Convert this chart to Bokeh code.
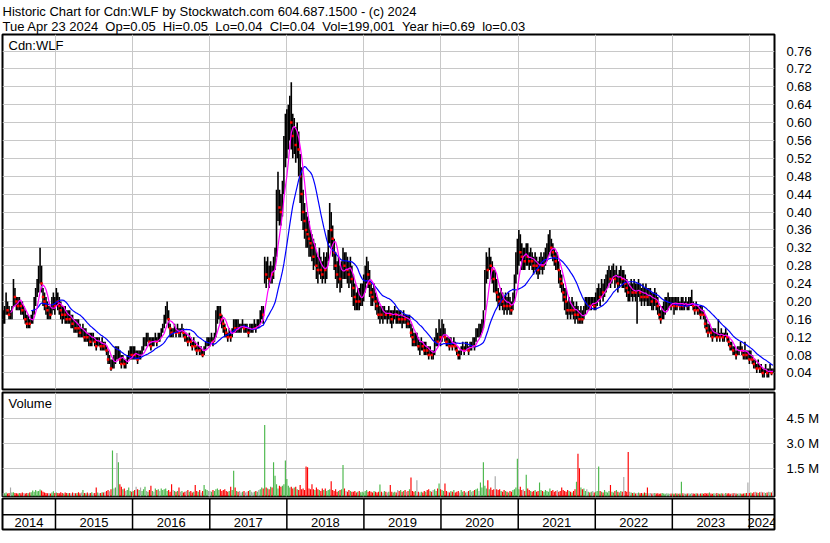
import numpy as np
import pandas as pd
from bokeh.plotting import figure
from bokeh.layouts import column
from bokeh.models import Range1d, FixedTicker, Grid, Label, PrintfTickFormatter, ColumnDataSource
from bokeh.core.properties import value
from bokeh.embed import file_html
from bokeh.resources import INLINE

# ---------------- texts / ticks ----------------
header_line1 = "Historic Chart for Cdn:WLF by Stockwatch.com 604.687.1500 - (c) 2024"
header_line2 = ("Tue Apr 23 2024 \u00a0Op=0.05 \u00a0Hi=0.05 \u00a0Lo=0.04 \u00a0Cl=0.04 "
                "\u00a0Vol=199,001 \u00a0Year hi=0.69 \u00a0lo=0.03")
symbol = "Cdn:WLF"
volume_title = "Volume"
first_week = "2014-04-28"
view_start = "2014-04-25"
view_end = "2024-04-29"
price_ticks = [0.04, 0.08, 0.12, 0.16, 0.20, 0.24, 0.28, 0.32, 0.36, 0.40,
               0.44, 0.48, 0.52, 0.56, 0.60, 0.64, 0.68, 0.72, 0.76]
volume_ticks = [1.5, 3.0, 4.5]          # millions
year_labels = [2014, 2015, 2016, 2017, 2018, 2019, 2020, 2021, 2022, 2023, 2024]
fast_weeks = 6
slow_weeks = 20

# ---------------- weekly data ----------------
close_2014 = [0.16, 0.17, 0.20, 0.18, 0.17, 0.17, 0.18, 0.23, 0.21, 0.20,
              0.19, 0.20, 0.19, 0.18, 0.18, 0.16, 0.15, 0.16, 0.15, 0.16,
              0.17, 0.19, 0.22, 0.23, 0.25, 0.27, 0.24, 0.21, 0.20, 0.19,
              0.18, 0.18, 0.17, 0.19, 0.20, 0.19]
high_2014 = [0.18, 0.19, 0.22, 0.20, 0.19, 0.18, 0.19, 0.25, 0.23, 0.21,
             0.21, 0.21, 0.20, 0.20, 0.19, 0.18, 0.17, 0.17, 0.16, 0.17,
             0.18, 0.21, 0.23, 0.25, 0.28, 0.32, 0.28, 0.23, 0.22, 0.21,
             0.20, 0.19, 0.19, 0.21, 0.22, 0.21]
low_2014 = [0.15, 0.15, 0.17, 0.17, 0.16, 0.16, 0.16, 0.19, 0.19, 0.18,
            0.18, 0.18, 0.17, 0.17, 0.16, 0.15, 0.14, 0.14, 0.14, 0.15,
            0.15, 0.17, 0.19, 0.21, 0.22, 0.24, 0.22, 0.19, 0.18, 0.17,
            0.16, 0.16, 0.16, 0.17, 0.18, 0.17]
vol_2014 = [0.08, 0.06, 0.10, 0.05, 0.08, 0.40, 0.10, 0.12, 0.08, 0.06,
            0.05, 0.08, 0.06, 0.10, 0.07, 0.05, 0.08, 0.06, 0.10, 0.12,
            0.22, 0.15, 0.25, 0.18, 0.20, 0.28, 0.22, 0.15, 0.10, 0.08,
            0.06, 0.08, 0.05, 0.10, 0.18, 0.08]

close_2015 = [0.21, 0.20, 0.19, 0.18, 0.17, 0.18, 0.17, 0.16, 0.17, 0.16,
              0.16, 0.15, 0.15, 0.14, 0.15, 0.14, 0.13, 0.13, 0.14, 0.12,
              0.13, 0.12, 0.12, 0.11, 0.12, 0.12, 0.11, 0.10, 0.11, 0.11,
              0.10, 0.11, 0.10, 0.10, 0.09, 0.07, 0.07, 0.05, 0.06, 0.06,
              0.08, 0.08, 0.09, 0.07, 0.06, 0.07, 0.06, 0.06, 0.07, 0.08,
              0.09, 0.08]
high_2015 = [0.23, 0.22, 0.21, 0.20, 0.19, 0.19, 0.19, 0.18, 0.18, 0.18,
             0.17, 0.17, 0.16, 0.16, 0.16, 0.16, 0.15, 0.14, 0.15, 0.14,
             0.14, 0.13, 0.13, 0.13, 0.13, 0.13, 0.12, 0.12, 0.12, 0.12,
             0.11, 0.12, 0.11, 0.11, 0.10, 0.09, 0.08, 0.07, 0.07, 0.08,
             0.10, 0.10, 0.10, 0.09, 0.08, 0.08, 0.07, 0.07, 0.08, 0.09,
             0.10, 0.10]
low_2015 = [0.19, 0.18, 0.17, 0.16, 0.15, 0.16, 0.15, 0.15, 0.15, 0.15,
            0.14, 0.14, 0.13, 0.13, 0.13, 0.12, 0.12, 0.12, 0.12, 0.11,
            0.11, 0.11, 0.10, 0.10, 0.10, 0.11, 0.10, 0.09, 0.10, 0.10,
            0.09, 0.09, 0.09, 0.09, 0.08, 0.06, 0.06, 0.045, 0.05, 0.05,
            0.06, 0.07, 0.07, 0.06, 0.05, 0.06, 0.05, 0.05, 0.06, 0.07,
            0.07, 0.07]
vol_2015 = [0.10, 0.08, 0.06, 0.12, 0.08, 0.05, 0.10, 0.07, 0.06, 0.08,
            0.05, 0.10, 0.07, 0.06, 0.08, 0.12, 0.06, 0.10, 0.25, 0.08,
            0.06, 0.10, 0.05, 0.08, 0.12, 0.06, 0.08, 0.40, 0.10, 0.06,
            0.08, 0.12, 0.10, 0.15, 0.20, 0.25, 0.18, 0.30, 2.60, 0.35,
            0.40, 2.45, 1.90, 0.60, 0.45, 0.30, 0.35, 0.20, 0.25, 0.40,
            0.20, 0.15]

close_2016 = [0.09, 0.08, 0.08, 0.07, 0.08, 0.08, 0.09, 0.10, 0.11, 0.11,
              0.12, 0.11, 0.10, 0.11, 0.11, 0.12, 0.11, 0.12, 0.12, 0.13,
              0.14, 0.15, 0.17, 0.18, 0.16, 0.14, 0.13, 0.13, 0.14, 0.13,
              0.14, 0.13, 0.13, 0.14, 0.13, 0.12, 0.12, 0.11, 0.12, 0.11,
              0.10, 0.11, 0.10, 0.09, 0.10, 0.09, 0.09, 0.08, 0.09, 0.10,
              0.11, 0.11]
high_2016 = [0.10, 0.10, 0.09, 0.09, 0.09, 0.09, 0.10, 0.12, 0.12, 0.13,
             0.13, 0.12, 0.12, 0.12, 0.12, 0.13, 0.12, 0.13, 0.13, 0.14,
             0.15, 0.17, 0.19, 0.20, 0.18, 0.15, 0.14, 0.14, 0.15, 0.14,
             0.15, 0.14, 0.14, 0.15, 0.14, 0.13, 0.13, 0.12, 0.13, 0.12,
             0.11, 0.12, 0.11, 0.10, 0.11, 0.10, 0.10, 0.09, 0.10, 0.11,
             0.12, 0.12]
low_2016 = [0.07, 0.07, 0.07, 0.06, 0.07, 0.07, 0.08, 0.09, 0.10, 0.10,
            0.11, 0.10, 0.09, 0.10, 0.10, 0.11, 0.10, 0.11, 0.11, 0.12,
            0.13, 0.14, 0.15, 0.16, 0.14, 0.12, 0.12, 0.12, 0.13, 0.12,
            0.13, 0.12, 0.12, 0.13, 0.12, 0.11, 0.11, 0.10, 0.11, 0.10,
            0.09, 0.10, 0.09, 0.08, 0.09, 0.08, 0.08, 0.075, 0.08, 0.09,
            0.10, 0.10]
vol_2016 = [0.20, 0.25, 0.45, 0.30, 0.25, 0.40, 0.20, 0.30, 0.45, 0.20,
            0.15, 0.25, 0.50, 0.20, 0.15, 0.35, 0.25, 0.30, 0.20, 0.35,
            0.25, 0.30, 0.35, 0.20, 0.25, 0.15, 0.60, 0.25, 0.20, 0.15,
            0.20, 0.40, 0.15, 0.20, 0.10, 0.15, 0.20, 0.25, 0.15, 0.20,
            0.10, 0.15, 0.55, 0.20, 0.15, 0.25, 0.10, 0.20, 0.55, 0.30,
            0.25, 0.20]

close_2017 = [0.11, 0.12, 0.11, 0.12, 0.16, 0.17, 0.18, 0.17, 0.16, 0.15,
              0.14, 0.13, 0.12, 0.13, 0.12, 0.13, 0.15, 0.14, 0.15, 0.14,
              0.14, 0.14, 0.15, 0.14, 0.14, 0.14, 0.13, 0.14, 0.14, 0.14,
              0.15, 0.14, 0.15, 0.15, 0.16, 0.18, 0.17, 0.27, 0.26, 0.28,
              0.25, 0.27, 0.26, 0.28, 0.29, 0.40, 0.44, 0.41, 0.40, 0.43,
              0.50, 0.56]
high_2017 = [0.12, 0.13, 0.12, 0.13, 0.18, 0.19, 0.19, 0.19, 0.17, 0.16,
             0.15, 0.14, 0.13, 0.14, 0.13, 0.14, 0.16, 0.16, 0.16, 0.16,
             0.15, 0.15, 0.16, 0.15, 0.15, 0.15, 0.14, 0.15, 0.15, 0.15,
             0.16, 0.15, 0.16, 0.16, 0.18, 0.19, 0.19, 0.30, 0.29, 0.30,
             0.28, 0.29, 0.28, 0.30, 0.32, 0.45, 0.49, 0.45, 0.44, 0.47,
             0.57, 0.62]
low_2017 = [0.10, 0.11, 0.10, 0.11, 0.12, 0.15, 0.16, 0.15, 0.14, 0.13,
            0.12, 0.12, 0.11, 0.12, 0.11, 0.12, 0.13, 0.13, 0.13, 0.13,
            0.13, 0.13, 0.14, 0.13, 0.13, 0.13, 0.12, 0.13, 0.13, 0.13,
            0.14, 0.13, 0.14, 0.14, 0.15, 0.16, 0.15, 0.24, 0.23, 0.25,
            0.23, 0.24, 0.24, 0.25, 0.27, 0.30, 0.38, 0.37, 0.37, 0.39,
            0.44, 0.50]
vol_2017 = [0.20, 0.15, 0.25, 0.20, 0.30, 0.35, 0.25, 0.30, 0.20, 0.25,
            0.30, 0.20, 0.15, 0.20, 0.45, 0.25, 1.40, 0.40, 0.20, 0.15,
            0.20, 0.10, 0.15, 0.20, 0.10, 0.15, 0.20, 0.25, 0.15, 0.10,
            0.15, 0.20, 0.15, 0.25, 0.30, 0.40, 0.35, 4.10, 0.40, 0.35,
            0.30, 0.45, 0.40, 1.90, 1.10, 0.60, 0.35, 0.50, 0.45, 0.50,
            0.60, 2.00]

close_2018 = [0.58, 0.60, 0.62, 0.60, 0.57, 0.58, 0.55, 0.56, 0.54, 0.48,
              0.44, 0.40, 0.38, 0.36, 0.35, 0.34, 0.33, 0.32, 0.30, 0.31,
              0.28, 0.27, 0.29, 0.27, 0.26, 0.28, 0.27, 0.28, 0.33, 0.38,
              0.36, 0.34, 0.31, 0.28, 0.26, 0.27, 0.25, 0.26, 0.29, 0.28,
              0.28, 0.27, 0.26, 0.27, 0.25, 0.23, 0.21, 0.20, 0.21, 0.20,
              0.21, 0.22, 0.24]
high_2018 = [0.63, 0.64, 0.66, 0.69, 0.62, 0.61, 0.59, 0.60, 0.58, 0.53,
             0.50, 0.45, 0.42, 0.40, 0.39, 0.38, 0.36, 0.35, 0.34, 0.33,
             0.31, 0.30, 0.32, 0.30, 0.29, 0.31, 0.30, 0.31, 0.36, 0.42,
             0.40, 0.37, 0.34, 0.31, 0.29, 0.30, 0.28, 0.29, 0.32, 0.31,
             0.31, 0.30, 0.29, 0.30, 0.28, 0.26, 0.24, 0.22, 0.23, 0.23,
             0.24, 0.24, 0.26]
low_2018 = [0.52, 0.54, 0.56, 0.54, 0.52, 0.53, 0.51, 0.52, 0.48, 0.42,
            0.38, 0.36, 0.34, 0.32, 0.32, 0.30, 0.30, 0.29, 0.27, 0.28,
            0.25, 0.24, 0.26, 0.25, 0.24, 0.25, 0.24, 0.25, 0.29, 0.33,
            0.32, 0.30, 0.27, 0.25, 0.23, 0.24, 0.22, 0.23, 0.25, 0.25,
            0.25, 0.24, 0.23, 0.24, 0.21, 0.19, 0.18, 0.18, 0.18, 0.18,
            0.19, 0.19, 0.20]
vol_2018 = [0.90, 0.50, 0.40, 0.45, 0.35, 0.40, 0.45, 0.30, 0.25, 0.55,
            0.30, 0.35, 0.25, 1.65, 1.60, 0.35, 0.30, 0.60, 0.30, 0.25,
            0.40, 0.30, 0.25, 0.20, 0.35, 0.25, 0.35, 0.20, 0.25, 0.30,
            0.78, 0.25, 0.20, 0.30, 0.15, 0.20, 0.25, 0.30, 1.74, 0.35,
            0.20, 0.15, 0.25, 0.20, 0.15, 0.15, 0.20, 0.10, 0.15, 0.20,
            0.12, 0.15, 0.10]

close_2019 = [0.25, 0.28, 0.26, 0.24, 0.22, 0.21, 0.22, 0.20, 0.19, 0.17,
              0.18, 0.17, 0.17, 0.18, 0.17, 0.17, 0.18, 0.17, 0.16, 0.17,
              0.18, 0.17, 0.17, 0.16, 0.17, 0.16, 0.17, 0.16, 0.16, 0.15,
              0.16, 0.13, 0.12, 0.11, 0.12, 0.12, 0.10, 0.10, 0.11, 0.10,
              0.09, 0.10, 0.09, 0.08, 0.09, 0.08, 0.08, 0.10, 0.12, 0.11,
              0.13, 0.12]
high_2019 = [0.28, 0.30, 0.29, 0.27, 0.24, 0.23, 0.24, 0.22, 0.21, 0.20,
             0.19, 0.19, 0.19, 0.19, 0.18, 0.18, 0.19, 0.18, 0.18, 0.18,
             0.19, 0.18, 0.18, 0.18, 0.18, 0.17, 0.18, 0.17, 0.17, 0.17,
             0.17, 0.15, 0.14, 0.13, 0.13, 0.13, 0.12, 0.11, 0.12, 0.11,
             0.11, 0.11, 0.10, 0.10, 0.10, 0.09, 0.09, 0.12, 0.14, 0.13,
             0.16, 0.14]
low_2019 = [0.22, 0.24, 0.23, 0.21, 0.19, 0.19, 0.20, 0.18, 0.17, 0.16,
            0.15, 0.16, 0.15, 0.16, 0.16, 0.15, 0.16, 0.15, 0.14, 0.15,
            0.16, 0.15, 0.15, 0.15, 0.15, 0.14, 0.15, 0.15, 0.14, 0.14,
            0.14, 0.12, 0.10, 0.10, 0.10, 0.10, 0.09, 0.08, 0.09, 0.09,
            0.08, 0.08, 0.08, 0.07, 0.08, 0.07, 0.07, 0.08, 0.10, 0.10,
            0.11, 0.10]
vol_2019 = [0.20, 0.25, 0.15, 0.20, 0.15, 0.10, 0.20, 0.15, 0.10, 0.15,
            0.58, 0.15, 0.10, 0.20, 0.15, 0.10, 0.15, 0.55, 0.15, 0.10,
            0.15, 0.10, 0.25, 0.20, 0.25, 0.15, 0.20, 0.25, 0.15, 0.20,
            0.30, 1.00, 0.20, 0.15, 0.20, 0.83, 0.15, 0.10, 0.15, 0.10,
            0.20, 0.15, 0.25, 0.30, 0.20, 0.15, 0.25, 0.30, 0.20, 0.35,
            0.64, 0.30]

close_2020 = [0.13, 0.14, 0.12, 0.11, 0.11, 0.10, 0.11, 0.10, 0.11, 0.10,
              0.09, 0.08, 0.08, 0.09, 0.10, 0.09, 0.10, 0.10, 0.09, 0.10,
              0.10, 0.11, 0.10, 0.12, 0.13, 0.13, 0.14, 0.15, 0.16, 0.24,
              0.29, 0.27, 0.30, 0.28, 0.27, 0.25, 0.25, 0.22, 0.21, 0.20,
              0.21, 0.20, 0.19, 0.20, 0.19, 0.20, 0.19, 0.18, 0.20, 0.23,
              0.27, 0.29]
high_2020 = [0.16, 0.15, 0.14, 0.12, 0.12, 0.12, 0.12, 0.11, 0.12, 0.11,
             0.10, 0.09, 0.09, 0.10, 0.11, 0.10, 0.11, 0.11, 0.10, 0.11,
             0.11, 0.12, 0.12, 0.14, 0.14, 0.15, 0.15, 0.16, 0.18, 0.27,
             0.31, 0.30, 0.32, 0.30, 0.29, 0.27, 0.27, 0.25, 0.23, 0.22,
             0.23, 0.22, 0.21, 0.22, 0.21, 0.22, 0.21, 0.20, 0.22, 0.26,
             0.31, 0.34]
low_2020 = [0.11, 0.12, 0.11, 0.10, 0.10, 0.09, 0.10, 0.09, 0.10, 0.09,
            0.08, 0.07, 0.07, 0.08, 0.09, 0.08, 0.09, 0.09, 0.08, 0.09,
            0.09, 0.10, 0.09, 0.11, 0.12, 0.12, 0.12, 0.13, 0.14, 0.18,
            0.24, 0.25, 0.27, 0.25, 0.24, 0.22, 0.22, 0.20, 0.19, 0.18,
            0.19, 0.18, 0.17, 0.18, 0.17, 0.18, 0.17, 0.17, 0.18, 0.20,
            0.24, 0.26]
vol_2020 = [0.25, 0.20, 0.64, 0.20, 0.15, 0.10, 0.20, 0.15, 0.25, 0.10,
            0.15, 0.20, 0.10, 0.25, 0.15, 0.20, 0.10, 0.15, 0.20, 0.25,
            0.15, 0.20, 0.25, 0.30, 0.35, 0.20, 0.70, 0.40, 1.90, 0.50,
            0.35, 0.83, 0.30, 0.40, 0.25, 0.30, 1.07, 0.30, 0.25, 0.30,
            0.20, 0.15, 0.25, 0.20, 0.15, 0.10, 0.20, 0.15, 0.25, 0.30,
            0.40, 2.10]

close_2021 = [0.33, 0.31, 0.30, 0.30, 0.29, 0.31, 0.30, 0.29, 0.30, 0.29,
              0.28, 0.29, 0.28, 0.27, 0.28, 0.29, 0.28, 0.29, 0.30, 0.31,
              0.33, 0.34, 0.32, 0.31, 0.30, 0.29, 0.29, 0.27, 0.25, 0.24,
              0.22, 0.21, 0.20, 0.18, 0.19, 0.18, 0.19, 0.18, 0.17, 0.18,
              0.17, 0.16, 0.17, 0.16, 0.17, 0.19, 0.19, 0.20, 0.19, 0.20,
              0.20, 0.19]
high_2021 = [0.36, 0.35, 0.33, 0.32, 0.32, 0.33, 0.33, 0.31, 0.32, 0.31,
             0.30, 0.31, 0.30, 0.29, 0.30, 0.31, 0.30, 0.31, 0.32, 0.33,
             0.35, 0.36, 0.34, 0.33, 0.32, 0.31, 0.31, 0.29, 0.27, 0.26,
             0.24, 0.23, 0.23, 0.20, 0.21, 0.20, 0.21, 0.20, 0.19, 0.20,
             0.19, 0.18, 0.19, 0.18, 0.19, 0.21, 0.21, 0.21, 0.21, 0.21,
             0.21, 0.21]
low_2021 = [0.28, 0.29, 0.27, 0.27, 0.27, 0.28, 0.28, 0.27, 0.28, 0.27,
            0.26, 0.27, 0.26, 0.25, 0.26, 0.27, 0.26, 0.27, 0.28, 0.29,
            0.30, 0.31, 0.30, 0.29, 0.28, 0.27, 0.27, 0.24, 0.23, 0.22,
            0.20, 0.18, 0.17, 0.16, 0.17, 0.16, 0.17, 0.16, 0.15, 0.16,
            0.15, 0.15, 0.15, 0.15, 0.16, 0.17, 0.18, 0.18, 0.18, 0.18,
            0.19, 0.18]
vol_2021 = [0.30, 0.45, 0.25, 0.30, 0.20, 1.16, 0.35, 0.25, 0.20, 0.15,
            0.20, 0.25, 0.15, 0.20, 0.70, 0.25, 0.20, 0.15, 0.25, 0.20,
            0.15, 0.35, 0.20, 0.25, 0.15, 0.20, 0.25, 0.15, 0.20, 0.40,
            0.25, 0.20, 0.15, 0.25, 0.20, 0.15, 0.10, 0.20, 0.30, 0.74,
            2.40, 1.55, 0.40, 0.30, 0.35, 0.20, 0.30, 0.15, 0.10, 0.15,
            0.20, 0.10]

close_2022 = [0.20, 0.21, 0.22, 0.21, 0.23, 0.22, 0.23, 0.24, 0.25, 0.26,
              0.25, 0.26, 0.27, 0.25, 0.26, 0.24, 0.25, 0.26, 0.25, 0.25,
              0.24, 0.23, 0.22, 0.22, 0.23, 0.22, 0.23, 0.22, 0.22, 0.23,
              0.22, 0.21, 0.22, 0.21, 0.22, 0.21, 0.21, 0.21, 0.20, 0.20,
              0.21, 0.20, 0.19, 0.17, 0.16, 0.17, 0.18, 0.19, 0.19, 0.20,
              0.20, 0.19]
high_2022 = [0.22, 0.23, 0.24, 0.23, 0.25, 0.24, 0.25, 0.26, 0.27, 0.28,
             0.27, 0.28, 0.285, 0.27, 0.28, 0.26, 0.27, 0.28, 0.27, 0.27,
             0.26, 0.25, 0.24, 0.24, 0.25, 0.24, 0.25, 0.24, 0.24, 0.25,
             0.24, 0.23, 0.24, 0.23, 0.24, 0.23, 0.23, 0.23, 0.22, 0.22,
             0.23, 0.22, 0.21, 0.19, 0.18, 0.19, 0.20, 0.21, 0.21, 0.22,
             0.21, 0.21]
low_2022 = [0.18, 0.19, 0.20, 0.19, 0.21, 0.20, 0.21, 0.22, 0.23, 0.24,
            0.23, 0.24, 0.25, 0.23, 0.24, 0.22, 0.23, 0.24, 0.23, 0.23,
            0.22, 0.21, 0.20, 0.20, 0.21, 0.20, 0.21, 0.20, 0.15, 0.21,
            0.20, 0.19, 0.20, 0.19, 0.20, 0.19, 0.19, 0.19, 0.18, 0.18,
            0.19, 0.18, 0.17, 0.16, 0.15, 0.16, 0.16, 0.17, 0.18, 0.18,
            0.19, 0.18]
vol_2022 = [0.15, 0.20, 1.65, 0.20, 0.15, 0.10, 0.25, 0.15, 0.10, 0.20,
            0.55, 0.15, 0.10, 0.20, 0.25, 0.15, 0.10, 0.20, 0.15, 1.03,
            0.20, 0.15, 2.50, 0.15, 0.10, 0.08, 0.10, 0.05, 0.08, 0.10,
            0.06, 0.08, 0.05, 0.10, 0.08, 0.40, 0.06, 0.08, 0.05, 0.06,
            0.08, 0.05, 0.06, 0.04, 0.05, 0.08, 0.05, 0.04, 0.06, 0.05,
            0.04, 0.05]

close_2023 = [0.20, 0.19, 0.20, 0.19, 0.20, 0.19, 0.20, 0.19, 0.19, 0.20,
              0.19, 0.19, 0.20, 0.20, 0.19, 0.18, 0.19, 0.18, 0.18, 0.17,
              0.18, 0.17, 0.15, 0.14, 0.13, 0.14, 0.13, 0.12, 0.13, 0.13,
              0.12, 0.13, 0.12, 0.13, 0.12, 0.12, 0.13, 0.12, 0.11, 0.10,
              0.10, 0.09, 0.09, 0.08, 0.09, 0.09, 0.10, 0.09, 0.08, 0.09,
              0.08, 0.08]
high_2023 = [0.21, 0.21, 0.21, 0.21, 0.21, 0.20, 0.21, 0.21, 0.20, 0.21,
             0.20, 0.21, 0.21, 0.226, 0.20, 0.19, 0.20, 0.19, 0.19, 0.19,
             0.19, 0.18, 0.17, 0.16, 0.15, 0.15, 0.14, 0.14, 0.14, 0.14,
             0.13, 0.16, 0.13, 0.14, 0.13, 0.13, 0.14, 0.13, 0.12, 0.11,
             0.11, 0.10, 0.10, 0.09, 0.10, 0.10, 0.11, 0.10, 0.09, 0.11,
             0.09, 0.09]
low_2023 = [0.19, 0.17, 0.18, 0.18, 0.19, 0.18, 0.18, 0.18, 0.18, 0.19,
            0.18, 0.18, 0.19, 0.19, 0.18, 0.17, 0.18, 0.17, 0.17, 0.16,
            0.17, 0.16, 0.14, 0.13, 0.12, 0.13, 0.12, 0.11, 0.12, 0.12,
            0.11, 0.12, 0.11, 0.12, 0.11, 0.11, 0.12, 0.11, 0.10, 0.09,
            0.09, 0.08, 0.08, 0.07, 0.08, 0.08, 0.09, 0.08, 0.07, 0.07,
            0.07, 0.07]
vol_2023 = [0.05, 0.04, 0.06, 0.05, 0.04, 0.05, 0.74, 0.06, 0.05, 0.04,
            0.05, 0.06, 0.04, 0.08, 0.05, 0.04, 0.06, 0.05, 0.04, 0.05,
            0.06, 0.04, 0.08, 0.05, 0.06, 0.10, 0.05, 0.04, 0.06, 0.05,
            0.08, 0.05, 0.04, 0.06, 0.05, 0.04, 0.08, 0.05, 0.06, 0.04,
            0.05, 0.06, 0.08, 0.05, 0.04, 0.06, 0.05, 0.04, 0.05, 0.06,
            0.08, 0.70]

close_2024 = [0.07, 0.08, 0.07, 0.06, 0.06, 0.05, 0.06, 0.05, 0.05, 0.04,
              0.04, 0.05, 0.04, 0.04, 0.05, 0.04, 0.04]
high_2024 = [0.09, 0.09, 0.08, 0.07, 0.07, 0.06, 0.07, 0.06, 0.06, 0.05,
             0.05, 0.06, 0.05, 0.05, 0.06, 0.05, 0.05]
low_2024 = [0.06, 0.07, 0.06, 0.05, 0.05, 0.04, 0.05, 0.04, 0.04, 0.03,
            0.03, 0.04, 0.03, 0.03, 0.04, 0.035, 0.04]
vol_2024 = [0.08, 0.10, 0.06, 0.12, 0.15, 0.10, 0.08, 0.12, 0.15, 0.10,
            0.12, 0.08, 0.10, 0.15, 0.12, 0.10, 0.20]

yearly = [
    (close_2014, high_2014, low_2014, vol_2014),
    (close_2015, high_2015, low_2015, vol_2015),
    (close_2016, high_2016, low_2016, vol_2016),
    (close_2017, high_2017, low_2017, vol_2017),
    (close_2018, high_2018, low_2018, vol_2018),
    (close_2019, high_2019, low_2019, vol_2019),
    (close_2020, high_2020, low_2020, vol_2020),
    (close_2021, high_2021, low_2021, vol_2021),
    (close_2022, high_2022, low_2022, vol_2022),
    (close_2023, high_2023, low_2023, vol_2023),
    (close_2024, high_2024, low_2024, vol_2024),
]
closes, highs, lows, vols = [], [], [], []
for c, h, l, v in yearly:
    m = min(len(c), len(h), len(l), len(v))
    closes += c[:m]; highs += h[:m]; lows += l[:m]; vols += v[:m]

n = len(closes)
dates = pd.date_range(first_week, periods=n, freq="7D")
xms = (dates.values.astype("int64") / 1e6).tolist()
opens = [closes[0]] + closes[:-1]

def ms(s):
    return pd.Timestamp(s).value / 1e6

x0, x1 = ms(view_start), ms(view_end)
DAY = 86400000.0

s = pd.Series(closes)
ma_fast = s.rolling(fast_weeks).mean().tolist()
ma_slow = s.rolling(slow_weeks).mean().tolist()

up_green, down_red, flat_grey = "#4cb84c", "#ff0000", "#a8a8a8"
vcolor = []
for o, c in zip(opens, closes):
    if round(c - o, 4) > 0:
        vcolor.append(up_green)
    elif round(c - o, 4) < 0:
        vcolor.append(down_red)
    else:
        vcolor.append(flat_grey)

src = ColumnDataSource(dict(x=xms, close=closes, high=highs, low=lows, open=opens,
                            vol=vols, vcolor=vcolor, fast=ma_fast, slow=ma_slow))
down_idx = [i for i in range(n) if closes[i] < opens[i] - 1e-9]
src_down = ColumnDataSource(dict(x=[xms[i] for i in down_idx], close=[closes[i] for i in down_idx]))

year_ms = [ms(f"{y}-01-01") for y in year_labels[1:]]

FONT = "Liberation Sans"
FW = 772
LB, RB = 2, 40
GRID = "#c8c8c8"

# ---------------- price panel ----------------
p = figure(frame_width=FW, frame_height=355, x_range=Range1d(x0, x1), y_range=Range1d(0.003, 0.797),
           x_axis_location=None, y_axis_location="right", toolbar_location=None,
           output_backend="svg", min_border_left=LB, min_border_right=RB,
           min_border_top=0, min_border_bottom=2,
           title=header_line1 + "\n" + header_line2)
p.title.text_font = FONT
p.title.text_font_size = "13px"
p.title.text_font_style = "normal"
p.title.text_color = "black"
p.title.align = "left"
p.title.standoff = 2
p.outline_line_color = "black"
p.outline_line_width = 2
p.background_fill_color = "white"
p.border_fill_color = "white"

p.yaxis.ticker = FixedTicker(ticks=price_ticks)
p.yaxis.formatter = PrintfTickFormatter(format="%.2f")
p.yaxis.major_tick_line_color = None
p.yaxis.minor_tick_line_color = None
p.yaxis.axis_line_color = None
p.yaxis.major_label_text_font = FONT
p.yaxis.major_label_text_font_size = "13px"
p.yaxis.major_label_text_color = "black"
p.yaxis.major_label_standoff = 6
p.ygrid.grid_line_color = GRID
p.xgrid.grid_line_color = None
p.add_layout(Grid(dimension=0, ticker=FixedTicker(ticks=year_ms), grid_line_color=GRID), "center")

p.segment(x0="x", y0="low", x1="x", y1="high", source=src, line_color="black", line_width=1.6)
p.scatter(x="x", y="close", source=src_down, marker="square", size=2.5,
          fill_color="#ff0000", line_color=None)
p.line(x="x", y="slow", source=src, line_color="#0000ff", line_width=1.2)
p.line(x="x", y="fast", source=src, line_color="#ff00ff", line_width=1.2)
p.add_layout(Label(x=x0, y=0.797, x_offset=6, y_offset=-3, text=symbol, text_baseline="top",
                   text_font=FONT, text_font_size="13px", text_color="black"))

# ---------------- volume panel ----------------
v = figure(frame_width=FW, frame_height=104, x_range=p.x_range, y_range=Range1d(-0.13, 6.03),
           x_axis_location=None, y_axis_location="right", toolbar_location=None,
           output_backend="svg", min_border_left=LB, min_border_right=RB,
           min_border_top=1, min_border_bottom=1)
v.outline_line_color = "black"
v.outline_line_width = 2
v.yaxis.ticker = FixedTicker(ticks=volume_ticks)
v.yaxis.formatter = PrintfTickFormatter(format="%.1f M")
v.yaxis.major_tick_line_color = None
v.yaxis.minor_tick_line_color = None
v.yaxis.axis_line_color = None
v.yaxis.major_label_text_font = FONT
v.yaxis.major_label_text_font_size = "13px"
v.yaxis.major_label_text_color = "black"
v.yaxis.major_label_standoff = 6
v.ygrid.grid_line_color = GRID
v.xgrid.grid_line_color = None
v.add_layout(Grid(dimension=0, ticker=FixedTicker(ticks=year_ms), grid_line_color=GRID), "center")
v.vbar(x="x", top="vol", bottom=-0.13, width=5.5 * DAY, source=src,
       fill_color="vcolor", line_color=None)
v.add_layout(Label(x=x0, y=6.03, x_offset=6, y_offset=-3, text=volume_title, text_baseline="top",
                   text_font=FONT, text_font_size="13px", text_color="black"))

# ---------------- year band ----------------
b = figure(frame_width=FW, frame_height=31, x_range=p.x_range, y_range=Range1d(0, 2),
           x_axis_location=None, y_axis_location=None, toolbar_location=None,
           output_backend="svg", min_border_left=LB, min_border_right=RB,
           min_border_top=1, min_border_bottom=2)
b.outline_line_color = "black"
b.outline_line_width = 2
b.grid.grid_line_color = None
b.segment(x0=year_ms, y0=[0] * len(year_ms), x1=year_ms, y1=[2] * len(year_ms),
          line_color="black", line_width=1.5)
b.segment(x0=[x0], y0=[0.95], x1=[x1], y1=[0.95], line_color="black", line_width=1.5)
bounds = [x0] + year_ms + [x1]
mids = [(bounds[i] + bounds[i + 1]) / 2 for i in range(len(year_labels))]
b.text(x=mids, y=[0.47] * len(mids), text=[str(y) for y in year_labels],
       text_align="center", text_baseline="middle", text_font=value(FONT),
       text_font_size="13px", text_color="black")

layout = column(p, v, b, spacing=0)
open("out.html", "w").write(file_html(layout, INLINE))
